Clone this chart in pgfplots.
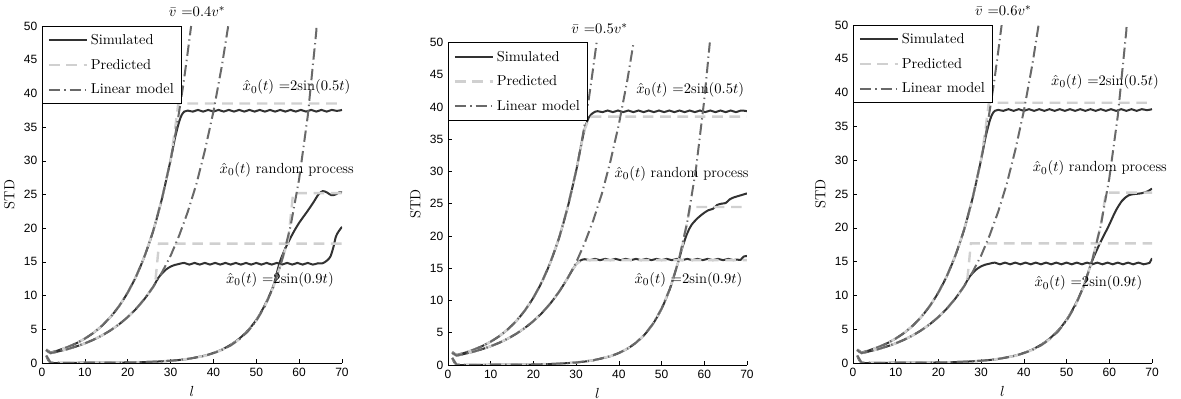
\documentclass[border=0pt]{standalone}
\usepackage{fontspec}
\usepackage{pgfplots}
\pgfplotsset{compat=1.18}
\usepackage{pgfplotstable}
\newfontfamily\ticksf{Liberation Sans}
\definecolor{simc}{RGB}{50,50,50}
\definecolor{predc}{RGB}{208,208,208}
\definecolor{linc}{RGB}{105,105,105}

% ---------- series A : x0 = 2 sin(0.5t) ----------
\pgfplotstableread{
l v
1 2.0
2 1.55
4 1.92
6 2.37
8 2.93
10 3.62
12 4.47
14 5.53
16 6.84
18 8.45
20 10.45
22 12.9
24 15.96
26 19.7
28 24.4
30 30.1
31 33.5
32 37.3
33 41.4
34 46.1
34.8 50
}\Alin
\pgfplotstableread{
l v
1 2.0
2 1.55
4 1.92
6 2.37
8 2.93
10 3.62
12 4.47
14 5.53
16 6.84
18 8.45
20 10.45
22 12.9
24 15.96
26 19.7
28 24.4
30 30.1
31 34.5
31.8 38.5
70 38.5
}\Apredi
\pgfplotstableread{
l v
1 2.0
2 1.55
4 1.92
6 2.37
8 2.93
10 3.62
12 4.47
14 5.53
16 6.84
18 8.45
20 10.45
22 12.9
24 15.96
26 19.7
28 24.4
30 30.1
31 33.3
32 35.8
32.6 36.8
33.2 37.3
34 37.45
35.2 37.3
36.4 37.55
37.6 37.3
38.8 37.55
40 37.3
41.2 37.55
42.4 37.3
43.6 37.55
44.8 37.3
46 37.55
47.2 37.3
48.4 37.55
49.6 37.3
50.8 37.55
52 37.3
53.2 37.55
54.4 37.3
55.6 37.55
56.8 37.3
58 37.55
59.2 37.3
60.4 37.55
61.6 37.3
62.8 37.55
64 37.3
65.2 37.55
66.4 37.3
67.6 37.55
68.8 37.4
70 37.55
}\Asimi
\pgfplotstableread{
l v
1 2.0
2 1.55
4 1.92
6 2.37
8 2.93
10 3.62
12 4.47
14 5.53
16 6.84
18 8.45
20 10.45
22 12.9
24 15.96
26 19.7
28 24.4
30 30.1
31 33.5
32 36.5
33 38.2
33.7 38.5
70 38.5
}\Apredii
\pgfplotstableread{
l v
1 2.0
2 1.55
4 1.92
6 2.37
8 2.93
10 3.62
12 4.47
14 5.53
16 6.84
18 8.45
20 10.45
22 12.9
24 15.96
26 19.7
28 24.4
30 30.1
31 33.5
32 36.6
33 38.4
34 39.1
35 39.35
36.2 39.2
37.4 39.45
38.6 39.2
39.8 39.45
41 39.2
42.2 39.45
43.4 39.2
44.6 39.45
45.8 39.2
47 39.45
48.2 39.2
49.4 39.45
50.6 39.2
51.8 39.45
53 39.2
54.2 39.45
55.4 39.2
56.6 39.45
57.8 39.2
59 39.45
60.2 39.2
61.4 39.45
62.6 39.2
63.8 39.45
65 39.2
66.2 39.45
67.4 39.2
68.6 39.45
70 39.35
}\Asimii

% ---------- series B : x0 = 2 sin(0.9t) ----------
\pgfplotstableread{
l v
1 1.9
2 1.47
4 1.75
6 2.07
8 2.46
10 2.91
12 3.45
14 4.09
16 4.85
18 5.75
20 6.81
22 8.07
24 9.57
26 11.35
28 13.45
30 15.9
32 18.9
34 22.4
36 26.5
38 31.5
40 37.3
42 44.2
43.45 50
}\Blin
\pgfplotstableread{
l v
1 1.9
2 1.47
4 1.75
6 2.07
8 2.46
10 2.91
12 3.45
14 4.09
16 4.85
18 5.75
20 6.81
22 8.07
24 9.57
26 11.35
26.5 12.4
27.3 17.7
70 17.7
}\Bpredi
\pgfplotstableread{
l v
1 1.9
2 1.47
4 1.75
6 2.07
8 2.46
10 2.91
12 3.45
14 4.09
16 4.85
18 5.75
20 6.81
22 8.07
24 9.57
26 11.35
27 12.5
28 13.3
29 13.9
30 14.3
31 14.55
32 14.7
33.2 14.85
34.4 14.6
35.6 14.85
36.8 14.6
38 14.85
39.2 14.6
40.4 14.85
41.6 14.6
42.8 14.85
44 14.6
45.2 14.85
46.4 14.6
47.6 14.85
48.8 14.6
50 14.85
51.2 14.6
52.4 14.85
53.6 14.6
54.8 14.85
56 14.6
57.2 14.85
58.4 14.6
59.6 14.85
60.8 14.6
62 14.85
63.2 14.6
64.4 14.8
65.5 14.8
66.5 15.2
67.3 15.8
68 17.2
68.6 18.8
69.3 19.6
70 20.2
}\Bsimi
\pgfplotstableread{
l v
1 1.9
2 1.47
4 1.75
6 2.07
8 2.46
10 2.91
12 3.45
14 4.09
16 4.85
18 5.75
20 6.81
22 8.07
24 9.57
26 11.35
28 13.45
29 14.6
30 15.6
31 16.1
32 16.25
70 16.25
}\Bpredii
\pgfplotstableread{
l v
1 1.9
2 1.47
4 1.75
6 2.07
8 2.46
10 2.91
12 3.45
14 4.09
16 4.85
18 5.75
20 6.81
22 8.07
24 9.57
26 11.35
28 13.45
29 14.6
30 15.6
31 16.2
32 16.4
33.2 16.25
34.4 16.45
35.6 16.25
36.8 16.45
38 16.25
39.2 16.45
40.4 16.25
41.6 16.45
42.8 16.25
44 16.45
45.2 16.25
46.4 16.45
47.6 16.25
48.8 16.45
50 16.25
51.2 16.45
52.4 16.25
53.6 16.45
54.8 16.25
56 16.45
57.2 16.25
58.4 16.45
59.6 16.25
60.8 16.45
62 16.25
63.2 16.45
64.4 16.25
65.6 16.45
66.8 16.25
67.6 16.35
68.5 16.3
69.2 16.8
70 16.9
}\Bsimii
\pgfplotstableread{
l v
1 1.9
2 1.47
4 1.75
6 2.07
8 2.46
10 2.91
12 3.45
14 4.09
16 4.85
18 5.75
20 6.81
22 8.07
24 9.57
26 11.35
26.8 12.6
27.6 17.7
70 17.7
}\Bprediii
\pgfplotstableread{
l v
1 1.9
2 1.47
4 1.75
6 2.07
8 2.46
10 2.91
12 3.45
14 4.09
16 4.85
18 5.75
20 6.81
22 8.07
24 9.57
26 11.35
27 12.5
28 13.3
29 13.9
30 14.3
31 14.55
32 14.7
33.2 14.85
34.4 14.6
35.6 14.85
36.8 14.6
38 14.85
39.2 14.6
40.4 14.85
41.6 14.6
42.8 14.85
44 14.6
45.2 14.85
46.4 14.6
47.6 14.85
48.8 14.6
50 14.85
51.2 14.6
52.4 14.85
53.6 14.6
54.8 14.85
56 14.6
57.2 14.85
58.4 14.6
59.6 14.85
60.8 14.6
62 14.85
63.2 14.6
64.4 14.85
65.6 14.6
66.8 14.85
68 14.6
68.8 14.7
69.4 14.8
70 15.5
}\Bsimiii

% ---------- series C : random process ----------
\pgfplotstableread{
l v
1 1.1
2 0.05
5 0.03
10 0.04
15 0.06
20 0.08
25 0.16
30 0.33
34 0.6
38 1.07
40 1.45
42 1.94
44 2.6
46 3.49
48 4.67
50 6.27
52 8.41
54 11.3
56 15.2
58 20.3
60 27.3
62 36.6
64 49.2
64.06 50
}\Clin
\pgfplotstableread{
l v
1 1.1
2 0.05
5 0.03
10 0.04
15 0.06
20 0.08
25 0.16
30 0.33
34 0.6
38 1.07
40 1.45
42 1.94
44 2.6
46 3.49
48 4.67
50 6.27
52 8.41
54 11.3
56 15.2
57.5 18.5
58.6 25.2
70 25.2
}\Cpredi
\pgfplotstableread{
l v
1 1.1
2 0.05
5 0.03
10 0.04
15 0.06
20 0.08
25 0.16
30 0.33
34 0.6
38 1.1
40 1.5
42 2.0
44 2.7
46 3.6
48 4.8
50 6.4
52 8.6
54 11.5
55.5 15.0
57 17.3
58.6 19.3
60 20.8
61.8 22.4
63.3 23.8
64.5 25.0
65.5 25.5
66.5 25.3
67.5 24.9
68.5 25.0
69.3 25.3
70 25.3
}\Csimi
\pgfplotstableread{
l v
1 1.1
2 0.05
5 0.03
10 0.04
15 0.06
20 0.08
25 0.18
30 0.39
34 0.73
38 1.36
40 1.86
42 2.53
44 3.45
46 4.69
48 6.39
50 8.72
52 11.9
54 16.2
56 22.1
58 30.1
60 41.1
61.3 50
}\Clinii
\pgfplotstableread{
l v
1 1.1
2 0.05
5 0.03
10 0.04
15 0.06
20 0.08
25 0.18
30 0.39
34 0.73
38 1.36
40 1.86
42 2.53
44 3.45
46 4.69
48 6.39
50 8.72
52 11.9
54 16.2
55 18.9
56 22.1
56.7 24.5
70 24.5
}\Cpredii
\pgfplotstableread{
l v
1 1.1
2 0.05
5 0.03
10 0.04
15 0.06
20 0.08
25 0.18
30 0.39
34 0.73
38 1.36
40 1.86
42 2.53
44 3.45
46 4.69
48 6.39
50 8.72
52 11.9
54 16.2
55 18.5
56 20.4
57 21.7
58.5 22.8
60 23.6
61 24.0
62 24.2
63 24.8
64 25.0
65 25.1
66 25.7
67 26.0
68 26.2
69 26.4
70 26.6
}\Csimii
\pgfplotstableread{
l v
1 1.1
2 0.05
5 0.03
10 0.04
15 0.06
20 0.08
25 0.16
30 0.33
34 0.6
38 1.07
40 1.45
42 1.94
44 2.6
46 3.49
48 4.67
50 6.27
52 8.41
54 11.3
56 15.2
58 20.3
59.2 25.2
70 25.2
}\Cprediii
\pgfplotstableread{
l v
1 1.1
2 0.05
5 0.03
10 0.04
15 0.06
20 0.08
25 0.16
30 0.33
34 0.6
38 1.1
40 1.5
42 2.0
44 2.7
46 3.6
48 4.8
50 6.4
52 8.6
54 11.4
55.8 14.8
57.8 17.7
59.8 20.2
61.5 22.5
63 24.0
64.5 24.8
66 25.0
67.5 25.1
69 25.4
70 25.8
}\Csimiii

\pgfplotsset{
  sim/.style={color=simc, line width=1.5pt, solid},
  pred/.style={color=predc, line width=1.8pt, dash pattern=on 8pt off 5pt},
  lin/.style={color=linc, line width=1.5pt, dash pattern=on 8.5pt off 3pt on 1pt off 3pt},
  common/.style={
    scale only axis, anchor=south west,
    xmin=0, xmax=70, ymin=0, ymax=50,
    xtick={0,10,...,70}, ytick={0,5,...,50},
    xticklabel={\ticksf\fontsize{9}{10}\selectfont\pgfmathprintnumber[assume math mode=true]{\tick}},
    yticklabel={\ticksf\fontsize{9}{10}\selectfont\pgfmathprintnumber[assume math mode=true]{\tick}},
    axis x line*=bottom, axis y line*=left,
    tick align=inside, major tick length=3pt,
    tick style={black, line width=0.4pt},
    axis line style={black, line width=0.5pt},
    xlabel={$l$}, ylabel={STD},
    label style={font=\fontsize{11}{13}\selectfont},
    xlabel style={yshift=-0.5pt},
    clip mode=individual,
    legend cell align=left,
    legend style={at={(0,1)}, anchor=north west, draw=black, line width=0.6pt,
      fill=white, font=\fontsize{10.8}{12}\selectfont, row sep=5.5pt,
      inner xsep=4pt, inner ysep=4pt},
    legend image code/.code={\draw[##1] (0pt,0pt) -- (28.5pt,0pt);},
  },
}
\tikzset{annot/.style={font=\fontsize{11}{13}\selectfont, inner sep=0pt}}

\begin{document}
\begin{tikzpicture}
\useasboundingbox (0,0) rectangle (885.75pt,299.25pt);

% ---------- panel 1 ----------
\begin{axis}[common, at={(31.5pt,27pt)}, width=225pt, height=252.75pt]
\addplot[sim, smooth] table {\Asimi};
\addlegendentry{Simulated}
\addplot[pred] table {\Apredi};
\addlegendentry{Predicted}
\addplot[lin] table {\Alin};
\addlegendentry{Linear model}
\addplot[sim, smooth, forget plot] table {\Bsimi};
\addplot[sim, smooth, forget plot] table {\Csimi};
\addplot[pred, forget plot] table {\Bpredi};
\addplot[pred, forget plot] table {\Cpredi};
\addplot[lin, forget plot] table {\Blin};
\addplot[lin, forget plot] table {\Clin};
\node[annot] at (axis cs:36.2,52.2) {$\bar{v}\ {=}0.4v^{*}$};
\node[annot] at (axis cs:59.4,40.9) {$\hat{x}_0(t)\ {=}2\mathrm{sin}(0.5t)$};
\node[annot] at (axis cs:57.1,28.7) {$\hat{x}_0(t)$ random process};
\node[annot] at (axis cs:55.5,12.3) {$\hat{x}_0(t)\ {=}2\mathrm{sin}(0.9t)$};
\end{axis}

% ---------- panel 2 ----------
\begin{axis}[common, at={(336pt,25.5pt)}, width=224.25pt, height=241.9pt]
\addplot[sim, smooth] table {\Asimii};
\addlegendentry{Simulated}
\addplot[pred] table {\Apredii};
\addlegendentry{Predicted}
\addplot[lin] table {\Alin};
\addlegendentry{Linear model}
\addplot[sim, smooth, forget plot] table {\Bsimii};
\addplot[sim, smooth, forget plot] table {\Csimii};
\addplot[pred, forget plot] table {\Bpredii};
\addplot[pred, forget plot] table {\Cpredii};
\addplot[lin, forget plot] table {\Blin};
\addplot[lin, forget plot] table {\Clinii};
\node[annot] at (axis cs:35.5,52.2) {$\bar{v}\ {=}0.5v^{*}$};
\node[annot] at (axis cs:56.7,42.7) {$\hat{x}_0(t)\ {=}2\mathrm{sin}(0.5t)$};
\node[annot] at (axis cs:54.7,29.6) {$\hat{x}_0(t)$ random process};
\node[annot] at (axis cs:56.3,13.2) {$\hat{x}_0(t)\ {=}2\mathrm{sin}(0.9t)$};
\end{axis}

% ---------- panel 3 ----------
\begin{axis}[common, at={(639.75pt,27pt)}, width=224.25pt, height=253.5pt]
\addplot[sim, smooth] table {\Asimi};
\addlegendentry{Simulated}
\addplot[pred] table {\Apredi};
\addlegendentry{Predicted}
\addplot[lin] table {\Alin};
\addlegendentry{Linear model}
\addplot[sim, smooth, forget plot] table {\Bsimiii};
\addplot[sim, smooth, forget plot] table {\Csimiii};
\addplot[pred, forget plot] table {\Bprediii};
\addplot[pred, forget plot] table {\Cprediii};
\addplot[lin, forget plot] table {\Blin};
\addplot[lin, forget plot] table {\Clin};
\node[annot] at (axis cs:35.2,52.1) {$\bar{v}\ {=}0.6v^{*}$};
\node[annot] at (axis cs:59,41.6) {$\hat{x}_0(t)\ {=}2\mathrm{sin}(0.5t)$};
\node[annot] at (axis cs:57.8,28.8) {$\hat{x}_0(t)$ random process};
\node[annot] at (axis cs:55.1,11.8) {$\hat{x}_0(t)\ {=}2\mathrm{sin}(0.9t)$};
\end{axis}
\end{tikzpicture}
\end{document}
